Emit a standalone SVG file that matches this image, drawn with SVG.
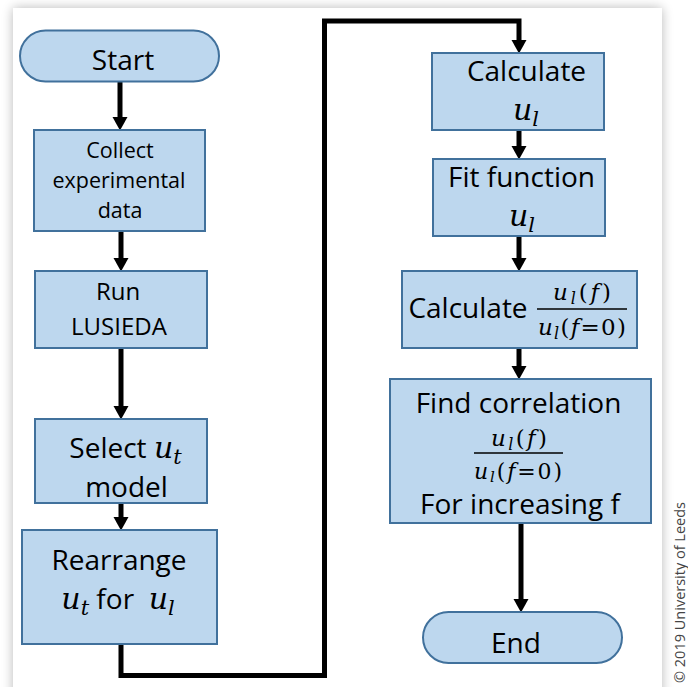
<svg xmlns="http://www.w3.org/2000/svg" width="688" height="687" viewBox="0 0 688 687">
<defs>
<filter id="sh" x="-10%" y="-10%" width="120%" height="120%"><feGaussianBlur stdDeviation="6"/></filter>
<marker id="ah" markerUnits="userSpaceOnUse" markerWidth="14" markerHeight="16" refX="0" refY="7.5" orient="auto" overflow="visible"><path d="M0,0 L13.5,7.5 L0,15 Z" fill="#000"/></marker>
</defs>
<style>
.box{fill:#BDD7EE;stroke:#41719C;stroke-width:2}
.t{font-family:"Open Sans","Liberation Sans",sans-serif;fill:#000;text-anchor:middle}
.m{font-family:"DejaVu Serif","Liberation Serif",serif;font-style:italic}
.r{font-style:normal}
.c{fill:none;stroke:#000;stroke-width:5}
.fl{stroke:#000;stroke-width:1.3}
</style>
<rect x="0" y="0" width="688" height="687" fill="#fff"/>
<rect x="13" y="8" width="649" height="700" fill="#000" opacity="0.28" filter="url(#sh)"/>
<rect x="13" y="8" width="649" height="690" fill="#fff"/>

<g id="connectors">
<line class="c" x1="120" y1="81" x2="120" y2="117" marker-end="url(#ah)"/>
<line class="c" x1="121" y1="231" x2="121" y2="258" marker-end="url(#ah)"/>
<line class="c" x1="121" y1="348" x2="121" y2="406" marker-end="url(#ah)"/>
<line class="c" x1="121" y1="503" x2="121" y2="517" marker-end="url(#ah)"/>
<path class="c" d="M121,644 V675.5 H324.5 V21 H519 V40" marker-end="url(#ah)"/>
<line class="c" x1="519" y1="130" x2="519" y2="146" marker-end="url(#ah)"/>
<line class="c" x1="519" y1="236" x2="519" y2="258" marker-end="url(#ah)"/>
<line class="c" x1="519" y1="348" x2="519" y2="366" marker-end="url(#ah)"/>
<line class="c" x1="521" y1="523" x2="521" y2="599" marker-end="url(#ah)"/>
</g>

<g id="start">
<rect class="box" x="20" y="30.5" width="199" height="51" rx="25.5"/>
<text class="t" x="123" y="70" font-size="28">Start</text>
</g>

<g id="collect">
<rect class="box" x="34" y="130" width="171" height="101"/>
<text class="t" x="120" y="158" font-size="21.5">Collect</text>
<text class="t" x="119" y="188" font-size="21.5">experimental</text>
<text class="t" x="120" y="218" font-size="21.5">data</text>
</g>

<g id="run">
<rect class="box" x="35" y="271" width="172" height="77"/>
<text class="t" x="118" y="300" font-size="24">Run</text>
<text class="t" x="119" y="335" font-size="24">LUSIEDA</text>
</g>

<g id="select">
<rect class="box" x="35" y="419" width="172" height="84"/>
<text class="t" x="125.5" y="458" font-size="28">Select <tspan class="m" font-size="30">u</tspan><tspan class="m" font-size="21" dy="6">t</tspan></text>
<text class="t" x="126.5" y="497" font-size="28">model</text>
</g>

<g id="rearrange">
<rect class="box" x="22" y="530" width="195" height="114"/>
<text class="t" x="119" y="570" font-size="28">Rearrange</text>
<text class="t" x="118" y="609" font-size="28"><tspan class="m" font-size="30">u</tspan><tspan class="m" font-size="21" dy="6">t</tspan><tspan dy="-6"> for&#160; </tspan><tspan class="m" font-size="30">u</tspan><tspan class="m" font-size="21" dy="6">l</tspan></text>
</g>

<g id="calc-ul">
<rect class="box" x="432" y="53" width="172" height="77"/>
<text class="t" x="526.5" y="81" font-size="28">Calculate</text>
<text class="t" x="526" y="120" font-size="28"><tspan class="m" font-size="30">u</tspan><tspan class="m" font-size="21" dy="6">l</tspan></text>
</g>

<g id="fit">
<rect class="box" x="433" y="159" width="172" height="77"/>
<text class="t" x="521.5" y="187" font-size="28">Fit function</text>
<text class="t" x="522" y="226" font-size="28"><tspan class="m" font-size="30">u</tspan><tspan class="m" font-size="21" dy="6">l</tspan></text>
</g>

<g id="calc-ratio">
<rect class="box" x="402" y="271" width="235" height="77"/>
<text class="t" x="468" y="318" font-size="28">Calculate</text>
<text class="t m" x="582" y="300" font-size="23" textLength="58" lengthAdjust="spacing">u<tspan font-size="16" dy="4">l</tspan><tspan class="r" dy="-4">(</tspan>f<tspan class="r">)</tspan></text>
<line class="fl" x1="537" y1="309" x2="627" y2="309"/>
<text class="t m" x="582" y="335" font-size="23" textLength="88" lengthAdjust="spacing">u<tspan font-size="16" dy="4">l</tspan><tspan class="r" dy="-4">(</tspan>f<tspan class="r">=0)</tspan></text>
</g>

<g id="find">
<rect class="box" x="390" y="379" width="261" height="144"/>
<text class="t" x="518.5" y="413" font-size="28">Find correlation</text>
<text class="t m" x="519" y="446" font-size="23" textLength="56" lengthAdjust="spacing">u<tspan font-size="16" dy="4">l</tspan><tspan class="r" dy="-4">(</tspan>f<tspan class="r">)</tspan></text>
<line class="fl" x1="474" y1="453" x2="563" y2="453"/>
<text class="t m" x="518" y="479" font-size="22" textLength="88" lengthAdjust="spacing">u<tspan font-size="15" dy="3">l</tspan><tspan class="r" dy="-3">(</tspan>f<tspan class="r">=0)</tspan></text>
<text class="t" x="520" y="514" font-size="28">For increasing f</text>
</g>

<g id="end">
<rect class="box" x="423" y="612" width="199" height="51" rx="25.5"/>
<text class="t" x="516" y="653" font-size="28">End</text>
</g>

<text transform="translate(685,683) rotate(-90)" x="0" y="0" font-family="Open Sans, Liberation Sans, sans-serif" font-size="14.5" fill="#444">© 2019 University of Leeds</text>
</svg>
